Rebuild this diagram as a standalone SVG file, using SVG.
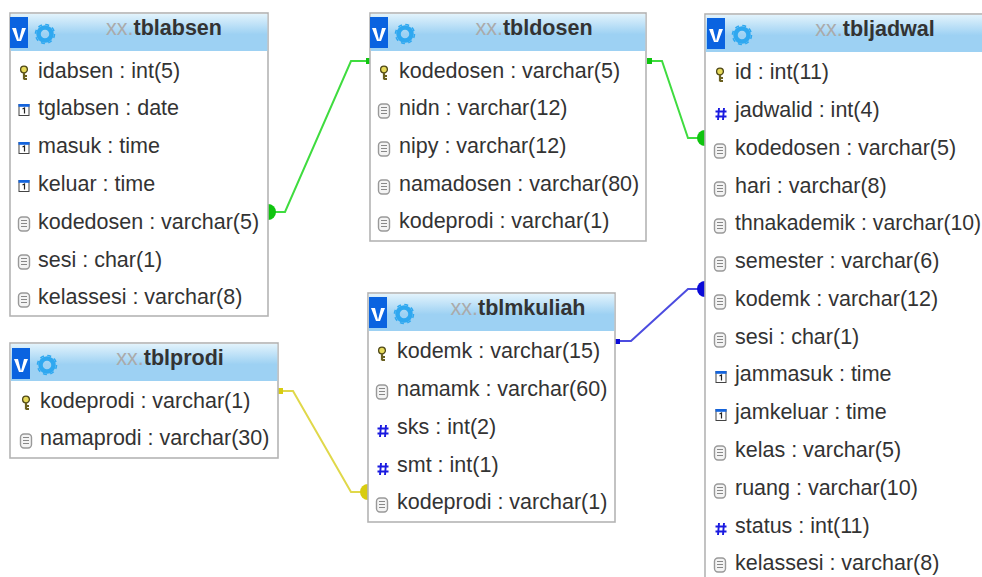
<svg xmlns="http://www.w3.org/2000/svg" width="982" height="577" viewBox="0 0 982 577">
<style>
.box{fill:#fff;stroke:#b4b4b4;stroke-width:1.6}
.hd{fill:url(#hg)}
.t{font:21.5px "Liberation Sans",Arial,sans-serif;fill:#333}
.tt{font:bold 21.5px "Liberation Sans",Arial,sans-serif;fill:#333;text-anchor:middle}
.xx{font-weight:normal;fill:#aaa}
.c{fill:none;stroke-width:2}
</style>
<defs>
<linearGradient id="hg" x1="0" y1="0" x2="0" y2="1"><stop offset="0" stop-color="#e2f3fc"/><stop offset=".55" stop-color="#9dd1f3"/><stop offset="1" stop-color="#9dd1f3"/></linearGradient>
<g id="head">
<rect x="0" y="4" width="18" height="31" fill="#0a63e0"/>
<path d="M6 15L9 27L12 15H16L11 28H7L2 15Z" fill="#fff"/>
<circle cx="35" cy="21" r="6.500" fill="none" stroke="#2fa8f0" stroke-width="4.500"/>
<circle cx="35" cy="21" r="9.500" fill="none" stroke="#2fa8f0" stroke-width="1.500" stroke-dasharray="4 3.460"/>
</g>
<g id="key">
<circle cx="0" cy="-3.500" r="3.400" fill="#e6d95a" stroke="#4f4818" stroke-width="1.300"/>
<path d="M0 -1V6.500M0 3H3M0 6H3" fill="none" stroke="#6a6020" stroke-width="2.200"/>
</g>
<g id="doc">
<rect x="-5.500" y="-7" width="11" height="14" rx="3.500" fill="#f4f4f4" stroke="#999" stroke-width="1.400"/>
<path d="M-3 -3.500H3M-3 -.5H3M-3 2.500H3" stroke="#888" stroke-width="1"/>
</g>
<g id="cal">
<rect x="-5" y="-5.500" width="10" height="11" fill="#fff" stroke="#444" stroke-width="1"/>
<rect x="-5.500" y="-6" width="11" height="2.800" fill="#1464dc"/>
<path d="M-1.500 -1L.5 -2V3.500" fill="none" stroke="#222" stroke-width="1.200"/>
</g>
<path id="num" d="M-2 -6L-3 6M3 -6L2 6M-5.500 -2.500H5.500M-5.500 2.500H5.500" fill="none" stroke="#1a1ae0" stroke-width="1.900"/>
</defs>

<g id="connectors">
<g stroke="#3fdc3f" class="c" fill="none">
<path class="c" d="M270 212H285L351 61H370"/>
<path class="c" d="M648 61H662L688 138H705"/>
</g>
<path d="M268 204A8 8 0 0 1 268 220Z" fill="#0fc40f"/>
<rect x="366" y="58" width="4" height="6" fill="#0fc40f"/>
<rect x="647" y="58" width="5" height="6" fill="#0fc40f"/>
<path d="M705 130A8 8 0 0 0 705 146Z" fill="#0fc40f"/>
<path class="c" stroke="#4c4ce0" d="M616 341H631L688 289H705"/>
<rect x="615" y="339" width="5" height="5" fill="#0a0ad8"/>
<path d="M705 281A8 8 0 0 0 705 297Z" fill="#0a0ad8"/>
<path class="c" stroke="#e0d84a" d="M279 391H293L351 492H368"/>
<rect x="278" y="388" width="5" height="6" fill="#d8cc10"/>
<path d="M368 484A8 8 0 0 0 368 500Z" fill="#d8cc10"/>
</g>

<g id="tblabsen">
<rect class="box" x="10" y="13" width="258" height="303"/>
<rect class="hd" x="10.800" y="14" width="256.500" height="37"/>
<use href="#head" x="10" y="13"/>
<text class="tt" x="164" y="35"><tspan class="xx">xx.</tspan>tblabsen</text>
<use href="#key" x="24" y="73"/><text class="t" x="38" y="78">idabsen : int(5)</text>
<use href="#cal" x="24" y="110"/><text class="t" x="38" y="115">tglabsen : date</text>
<use href="#cal" x="24" y="148"/><text class="t" x="38" y="153">masuk : time</text>
<use href="#cal" x="24" y="186"/><text class="t" x="38" y="191">keluar : time</text>
<use href="#doc" x="24" y="224"/><text class="t" x="38" y="229">kodedosen : varchar(5)</text>
<use href="#doc" x="24" y="262"/><text class="t" x="38" y="267">sesi : char(1)</text>
<use href="#doc" x="24" y="300"/><text class="t" x="38" y="304">kelassesi : varchar(8)</text>
</g>

<g id="tbldosen">
<rect class="box" x="370" y="13" width="276" height="228"/>
<rect class="hd" x="370.800" y="14" width="274.500" height="37"/>
<use href="#head" x="370" y="13"/>
<text class="tt" x="534" y="35"><tspan class="xx">xx.</tspan>tbldosen</text>
<use href="#key" x="384" y="73"/><text class="t" x="399" y="78">kodedosen : varchar(5)</text>
<use href="#doc" x="384" y="111"/><text class="t" x="399" y="115">nidn : varchar(12)</text>
<use href="#doc" x="384" y="149"/><text class="t" x="399" y="153">nipy : varchar(12)</text>
<use href="#doc" x="384" y="187"/><text class="t" x="399" y="191">namadosen : varchar(80)</text>
<use href="#doc" x="384" y="224"/><text class="t" x="399" y="228">kodeprodi : varchar(1)</text>
</g>

<g id="tbljadwal">
<rect class="box" x="705" y="14" width="290" height="580"/>
<rect class="hd" x="705.800" y="15" width="277" height="37"/>
<use href="#head" x="707" y="14"/>
<text class="tt" x="875" y="36"><tspan class="xx">xx.</tspan>tbljadwal</text>
<use href="#key" x="720" y="75"/><text class="t" x="735" y="79">id : int(11)</text>
<use href="#num" x="721" y="114"/><text class="t" x="735" y="117">jadwalid : int(4)</text>
<use href="#doc" x="720" y="151"/><text class="t" x="735" y="155">kodedosen : varchar(5)</text>
<use href="#doc" x="720" y="189"/><text class="t" x="735" y="193">hari : varchar(8)</text>
<use href="#doc" x="720" y="226"/><text class="t" x="735" y="230" style="font-size:21.2px">thnakademik : varchar(10)</text>
<use href="#doc" x="720" y="264"/><text class="t" x="735" y="268">semester : varchar(6)</text>
<use href="#doc" x="720" y="302"/><text class="t" x="735" y="306">kodemk : varchar(12)</text>
<use href="#doc" x="720" y="340"/><text class="t" x="735" y="344">sesi : char(1)</text>
<use href="#cal" x="721" y="377"/><text class="t" x="735" y="381">jammasuk : time</text>
<use href="#cal" x="721" y="415"/><text class="t" x="735" y="419">jamkeluar : time</text>
<use href="#doc" x="720" y="453"/><text class="t" x="735" y="457">kelas : varchar(5)</text>
<use href="#doc" x="720" y="491"/><text class="t" x="735" y="495">ruang : varchar(10)</text>
<use href="#num" x="721" y="529"/><text class="t" x="735" y="533">status : int(11)</text>
<use href="#doc" x="720" y="565"/><text class="t" x="735" y="570">kelassesi : varchar(8)</text>
</g>

<g id="tblmkuliah">
<rect class="box" x="368" y="293" width="247" height="229"/>
<rect class="hd" x="368.800" y="294" width="245.500" height="37"/>
<use href="#head" x="369" y="293"/>
<text class="tt" x="518" y="315"><tspan class="xx">xx.</tspan>tblmkuliah</text>
<use href="#key" x="382" y="354"/><text class="t" x="397" y="358">kodemk : varchar(15)</text>
<use href="#doc" x="382" y="392"/><text class="t" x="397" y="396">namamk : varchar(60)</text>
<use href="#num" x="383" y="431"/><text class="t" x="397" y="434">sks : int(2)</text>
<use href="#num" x="383" y="469"/><text class="t" x="397" y="472">smt : int(1)</text>
<use href="#doc" x="382" y="505"/><text class="t" x="397" y="509">kodeprodi : varchar(1)</text>
</g>

<g id="tblprodi">
<rect class="box" x="10" y="343" width="268" height="115"/>
<rect class="hd" x="10.800" y="344" width="266.500" height="37"/>
<use href="#head" x="12" y="344"/>
<text class="tt" x="170" y="365"><tspan class="xx">xx.</tspan>tblprodi</text>
<use href="#key" x="26" y="403"/><text class="t" x="40" y="408">kodeprodi : varchar(1)</text>
<use href="#doc" x="26" y="441"/><text class="t" x="40" y="445">namaprodi : varchar(30)</text>
</g>
</svg>
